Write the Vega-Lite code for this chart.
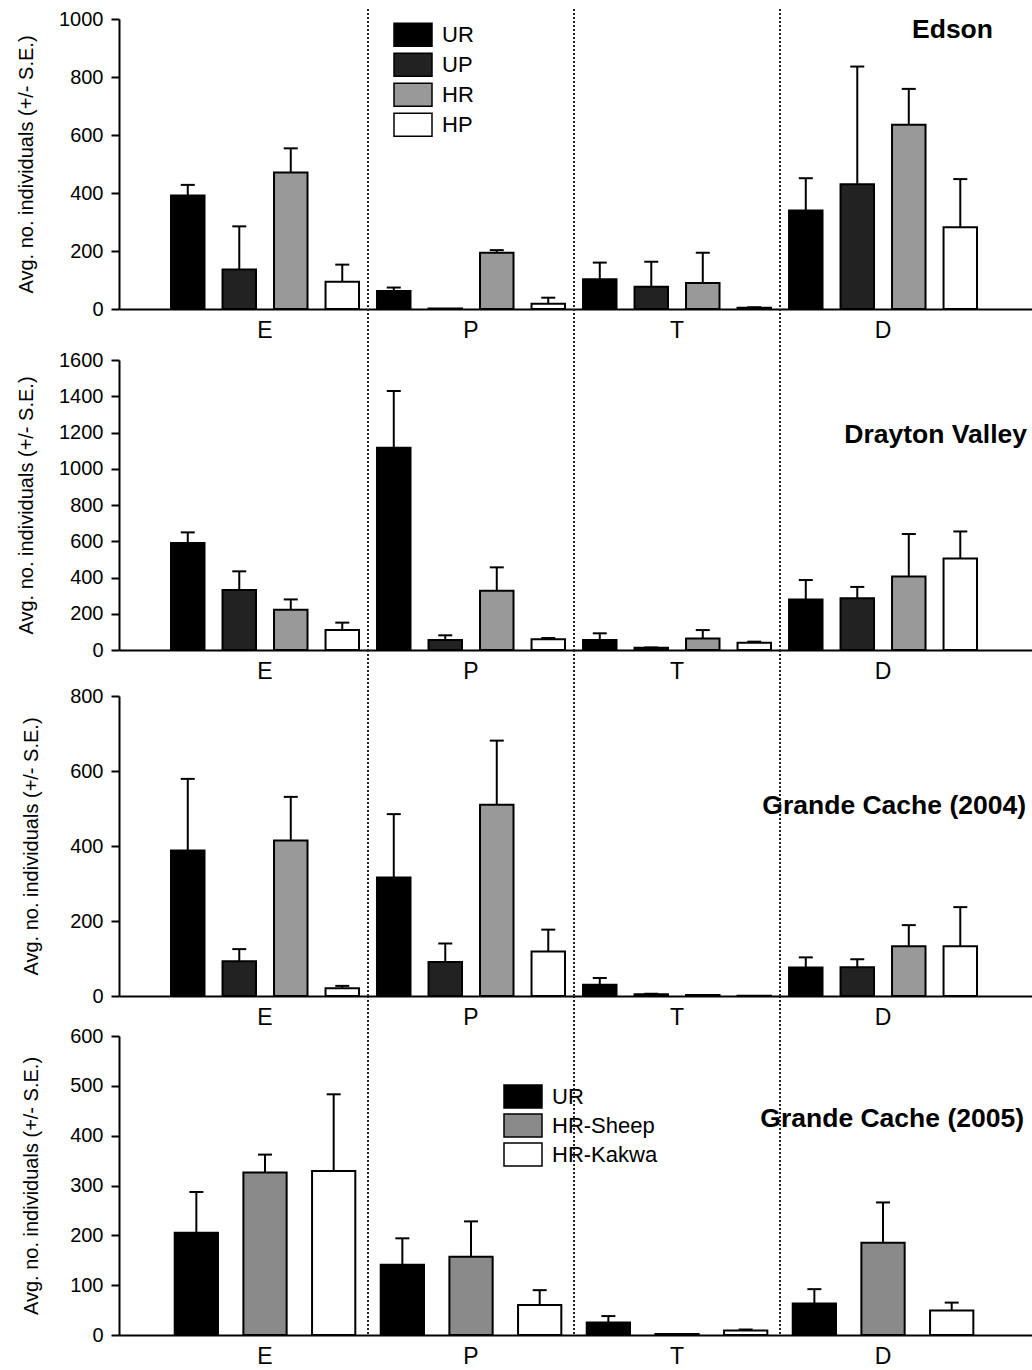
{
  "$schema": "https://vega.github.io/schema/vega-lite/v6.json",
  "autosize": {"type": "pad"},
  "padding": {"left": 16, "top": 8, "right": 0, "bottom": 0},
  "config": {
    "view": {"stroke": null},
    "font": "Liberation Sans",
    "axis": {"grid": false, "labelColor": "black", "titleColor": "black", "domainColor": "black", "tickColor": "black", "domainWidth": 2, "tickWidth": 2, "labelFont": "Liberation Sans", "titleFont": "Liberation Sans"},
    "title": {"font": "Liberation Sans", "fontWeight": "bold", "fontSize": 26.5, "color": "black", "anchor": "end", "frame": "group", "baseline": "middle", "offset": 0},
    "legend": {"labelFont": "Liberation Sans", "labelColor": "black"}
  },
  "datasets": {
    "seps": [{"group": "P"}, {"group": "T"}, {"group": "D"}],
    "edson": [
      {"group": "E", "treatment": "UR", "mean": 391, "upper": 428},
      {"group": "E", "treatment": "UP", "mean": 136, "upper": 285},
      {"group": "E", "treatment": "HR", "mean": 471, "upper": 554},
      {"group": "E", "treatment": "HP", "mean": 94, "upper": 153},
      {"group": "P", "treatment": "UR", "mean": 62, "upper": 74},
      {"group": "P", "treatment": "UP", "mean": 2, "upper": 2},
      {"group": "P", "treatment": "HR", "mean": 194, "upper": 203},
      {"group": "P", "treatment": "HP", "mean": 18, "upper": 39},
      {"group": "T", "treatment": "UR", "mean": 103, "upper": 160},
      {"group": "T", "treatment": "UP", "mean": 77, "upper": 163},
      {"group": "T", "treatment": "HR", "mean": 90, "upper": 194},
      {"group": "T", "treatment": "HP", "mean": 4, "upper": 6},
      {"group": "D", "treatment": "UR", "mean": 340, "upper": 451},
      {"group": "D", "treatment": "UP", "mean": 430, "upper": 836},
      {"group": "D", "treatment": "HR", "mean": 635, "upper": 759},
      {"group": "D", "treatment": "HP", "mean": 282, "upper": 448}
    ],
    "drayton": [
      {"group": "E", "treatment": "UR", "mean": 590, "upper": 649},
      {"group": "E", "treatment": "UP", "mean": 331, "upper": 434},
      {"group": "E", "treatment": "HR", "mean": 222, "upper": 279},
      {"group": "E", "treatment": "HP", "mean": 110, "upper": 151},
      {"group": "P", "treatment": "UR", "mean": 1116, "upper": 1429},
      {"group": "P", "treatment": "UP", "mean": 55, "upper": 81},
      {"group": "P", "treatment": "HR", "mean": 327, "upper": 456},
      {"group": "P", "treatment": "HP", "mean": 59, "upper": 66},
      {"group": "T", "treatment": "UR", "mean": 55, "upper": 92},
      {"group": "T", "treatment": "UP", "mean": 12, "upper": 14},
      {"group": "T", "treatment": "HR", "mean": 64, "upper": 110},
      {"group": "T", "treatment": "HP", "mean": 40, "upper": 46},
      {"group": "D", "treatment": "UR", "mean": 279, "upper": 386},
      {"group": "D", "treatment": "UP", "mean": 285, "upper": 348},
      {"group": "D", "treatment": "HR", "mean": 406, "upper": 640},
      {"group": "D", "treatment": "HP", "mean": 505, "upper": 654}
    ],
    "gc2004": [
      {"group": "E", "treatment": "UR", "mean": 388, "upper": 579},
      {"group": "E", "treatment": "UP", "mean": 93, "upper": 125},
      {"group": "E", "treatment": "HR", "mean": 415, "upper": 531},
      {"group": "E", "treatment": "HP", "mean": 21, "upper": 27},
      {"group": "P", "treatment": "UR", "mean": 316, "upper": 485},
      {"group": "P", "treatment": "UP", "mean": 91, "upper": 140},
      {"group": "P", "treatment": "HR", "mean": 510, "upper": 681},
      {"group": "P", "treatment": "HP", "mean": 119, "upper": 177},
      {"group": "T", "treatment": "UR", "mean": 30, "upper": 48},
      {"group": "T", "treatment": "UP", "mean": 5, "upper": 6},
      {"group": "T", "treatment": "HR", "mean": 3, "upper": 3},
      {"group": "T", "treatment": "HP", "mean": 1, "upper": 1},
      {"group": "D", "treatment": "UR", "mean": 76, "upper": 103},
      {"group": "D", "treatment": "UP", "mean": 77, "upper": 98},
      {"group": "D", "treatment": "HR", "mean": 133, "upper": 189},
      {"group": "D", "treatment": "HP", "mean": 133, "upper": 237}
    ],
    "gc2005": [
      {"group": "E", "treatment": "UR", "mean": 205, "upper": 287},
      {"group": "E", "treatment": "HR-Sheep", "mean": 326, "upper": 362},
      {"group": "E", "treatment": "HR-Kakwa", "mean": 329, "upper": 483},
      {"group": "P", "treatment": "UR", "mean": 141, "upper": 194},
      {"group": "P", "treatment": "HR-Sheep", "mean": 157, "upper": 228},
      {"group": "P", "treatment": "HR-Kakwa", "mean": 60, "upper": 90},
      {"group": "T", "treatment": "UR", "mean": 25, "upper": 38},
      {"group": "T", "treatment": "HR-Sheep", "mean": 2, "upper": 2},
      {"group": "T", "treatment": "HR-Kakwa", "mean": 9, "upper": 11},
      {"group": "D", "treatment": "UR", "mean": 63, "upper": 92},
      {"group": "D", "treatment": "HR-Sheep", "mean": 185, "upper": 266},
      {"group": "D", "treatment": "HR-Kakwa", "mean": 49, "upper": 65}
    ]
  },
  "vconcat": [
    {
      "width": 914, "height": 300,
      "title": {"text": "Edson", "dy": 39, "dx": -40},
      "layer": [
        {"data": {"name": "seps"}, "mark": {"type": "rule", "strokeDash": [2, 2], "strokeWidth": 2, "color": "#222"},
         "encoding": {"x": {"field": "group", "type": "nominal", "bandPosition": 0, "scale": {"domain": ["E", "P", "T", "D"], "paddingInner": 0, "paddingOuter": 0.2184, "align": 0.478}, "axis": {"title": null, "ticks": false, "labelFontSize": 23, "labelPadding": 10, "labelAngle": 0}}}},
        {"data": {"name": "edson"}, "mark": {"type": "bar", "stroke": "black", "strokeWidth": 2},
         "encoding": {
           "x": {"field": "group", "type": "nominal", "scale": {"domain": ["E", "P", "T", "D"], "paddingInner": 0, "paddingOuter": 0.2184, "align": 0.478}, "axis": {"title": null, "ticks": false, "labelFontSize": 23, "labelPadding": 10, "labelAngle": 0}},
           "xOffset": {"field": "treatment", "type": "nominal", "scale": {"domain": ["UR", "UP", "HR", "HP"], "paddingInner": 0.35, "paddingOuter": 0.175}},
           "y": {"field": "mean", "type": "quantitative", "title": "Avg. no. individuals (+/- S.E.)", "scale": {"domain": [0, 1000], "range": [300, 10], "nice": false}, "axis": {"values": [0, 200, 400, 600, 800, 1000], "format": "d", "labelFontSize": 20, "labelPadding": 8, "tickSize": 8, "labelFlush": false, "titleFontSize": 20, "titleFontWeight": "normal", "titlePadding": 22}},
           "color": {"field": "treatment", "type": "nominal", "scale": {"domain": ["UR", "UP", "HR", "HP"], "range": ["#000000", "#222222", "#999999", "#ffffff"]},
             "legend": {"orient": "none", "legendX": 274, "legendY": 11, "title": null, "symbolType": "M-1,-0.6H1V0.6H-1Z", "symbolSize": 1444, "symbolStrokeColor": "black", "symbolStrokeWidth": 1.5, "symbolOpacity": 1, "labelFontSize": 22, "clipHeight": 29.5, "rowPadding": 0, "labelOffset": 9, "padding": 0}}
         }},
        {"data": {"name": "edson"}, "transform": [{"filter": "datum.upper > datum.mean"}], "mark": {"type": "rule", "strokeWidth": 2, "color": "black"},
         "encoding": {
           "x": {"field": "group", "type": "nominal"},
           "xOffset": {"field": "treatment", "type": "nominal"},
           "y": {"field": "mean", "type": "quantitative", "title": "Avg. no. individuals (+/- S.E.)"},
           "y2": {"field": "upper"}
         }},
        {"data": {"name": "edson"}, "transform": [{"filter": "datum.upper > datum.mean"}], "mark": {"type": "tick", "orient": "horizontal", "size": 14, "thickness": 2, "color": "black", "opacity": 1},
         "encoding": {
           "x": {"field": "group", "type": "nominal"},
           "xOffset": {"field": "treatment", "type": "nominal"},
           "y": {"field": "upper", "type": "quantitative", "title": "Avg. no. individuals (+/- S.E.)"}
         }}
      ]
    },
    {
      "width": 914, "height": 341,
      "title": {"text": "Drayton Valley", "dy": 144, "dx": -6},
      "layer": [
        {"data": {"name": "seps"}, "mark": {"type": "rule", "strokeDash": [2, 2], "strokeWidth": 2, "color": "#222"},
         "encoding": {"x": {"field": "group", "type": "nominal", "bandPosition": 0, "scale": {"domain": ["E", "P", "T", "D"], "paddingInner": 0, "paddingOuter": 0.2184, "align": 0.478}, "axis": {"title": null, "ticks": false, "labelFontSize": 23, "labelPadding": 10, "labelAngle": 0}}}},
        {"data": {"name": "drayton"}, "mark": {"type": "bar", "stroke": "black", "strokeWidth": 2},
         "encoding": {
           "x": {"field": "group", "type": "nominal", "scale": {"domain": ["E", "P", "T", "D"], "paddingInner": 0, "paddingOuter": 0.2184, "align": 0.478}, "axis": {"title": null, "ticks": false, "labelFontSize": 23, "labelPadding": 10, "labelAngle": 0}},
           "xOffset": {"field": "treatment", "type": "nominal", "scale": {"domain": ["UR", "UP", "HR", "HP"], "paddingInner": 0.35, "paddingOuter": 0.175}},
           "y": {"field": "mean", "type": "quantitative", "title": "Avg. no. individuals (+/- S.E.)", "scale": {"domain": [0, 1600], "range": [341, 51], "nice": false}, "axis": {"values": [0, 200, 400, 600, 800, 1000, 1200, 1400, 1600], "format": "d", "labelFontSize": 20, "labelPadding": 8, "tickSize": 8, "labelFlush": false, "titleFontSize": 20, "titleFontWeight": "normal", "titlePadding": 22}},
           "color": {"field": "treatment", "type": "nominal", "scale": {"domain": ["UR", "UP", "HR", "HP"], "range": ["#000000", "#222222", "#999999", "#ffffff"]}, "legend": null}
         }},
        {"data": {"name": "drayton"}, "transform": [{"filter": "datum.upper > datum.mean"}], "mark": {"type": "rule", "strokeWidth": 2, "color": "black"},
         "encoding": {
           "x": {"field": "group", "type": "nominal"},
           "xOffset": {"field": "treatment", "type": "nominal"},
           "y": {"field": "mean", "type": "quantitative", "title": "Avg. no. individuals (+/- S.E.)"},
           "y2": {"field": "upper"}
         }},
        {"data": {"name": "drayton"}, "transform": [{"filter": "datum.upper > datum.mean"}], "mark": {"type": "tick", "orient": "horizontal", "size": 14, "thickness": 2, "color": "black", "opacity": 1},
         "encoding": {
           "x": {"field": "group", "type": "nominal"},
           "xOffset": {"field": "treatment", "type": "nominal"},
           "y": {"field": "upper", "type": "quantitative", "title": "Avg. no. individuals (+/- S.E.)"}
         }}
      ]
    },
    {
      "width": 914, "height": 346,
      "title": {"text": "Grande Cache (2004)", "dy": 174, "dx": -7},
      "layer": [
        {"data": {"name": "seps"}, "mark": {"type": "rule", "strokeDash": [2, 2], "strokeWidth": 2, "color": "#222"},
         "encoding": {"x": {"field": "group", "type": "nominal", "bandPosition": 0, "scale": {"domain": ["E", "P", "T", "D"], "paddingInner": 0, "paddingOuter": 0.2184, "align": 0.478}, "axis": {"title": null, "ticks": false, "labelFontSize": 23, "labelPadding": 10, "labelAngle": 0}}}},
        {"data": {"name": "gc2004"}, "mark": {"type": "bar", "stroke": "black", "strokeWidth": 2},
         "encoding": {
           "x": {"field": "group", "type": "nominal", "scale": {"domain": ["E", "P", "T", "D"], "paddingInner": 0, "paddingOuter": 0.2184, "align": 0.478}, "axis": {"title": null, "ticks": false, "labelFontSize": 23, "labelPadding": 10, "labelAngle": 0}},
           "xOffset": {"field": "treatment", "type": "nominal", "scale": {"domain": ["UR", "UP", "HR", "HP"], "paddingInner": 0.35, "paddingOuter": 0.175}},
           "y": {"field": "mean", "type": "quantitative", "title": "Avg. no. individuals (+/- S.E.)", "scale": {"domain": [0, 800], "range": [346, 46], "nice": false}, "axis": {"values": [0, 200, 400, 600, 800], "format": "d", "labelFontSize": 20, "labelPadding": 8, "tickSize": 8, "labelFlush": false, "titleFontSize": 20, "titleFontWeight": "normal", "titlePadding": 28}},
           "color": {"field": "treatment", "type": "nominal", "scale": {"domain": ["UR", "UP", "HR", "HP"], "range": ["#000000", "#222222", "#999999", "#ffffff"]}, "legend": null}
         }},
        {"data": {"name": "gc2004"}, "transform": [{"filter": "datum.upper > datum.mean"}], "mark": {"type": "rule", "strokeWidth": 2, "color": "black"},
         "encoding": {
           "x": {"field": "group", "type": "nominal"},
           "xOffset": {"field": "treatment", "type": "nominal"},
           "y": {"field": "mean", "type": "quantitative", "title": "Avg. no. individuals (+/- S.E.)"},
           "y2": {"field": "upper"}
         }},
        {"data": {"name": "gc2004"}, "transform": [{"filter": "datum.upper > datum.mean"}], "mark": {"type": "tick", "orient": "horizontal", "size": 14, "thickness": 2, "color": "black", "opacity": 1},
         "encoding": {
           "x": {"field": "group", "type": "nominal"},
           "xOffset": {"field": "treatment", "type": "nominal"},
           "y": {"field": "upper", "type": "quantitative", "title": "Avg. no. individuals (+/- S.E.)"}
         }}
      ]
    },
    {
      "width": 914, "height": 339,
      "title": {"text": "Grande Cache (2005)", "dy": 141, "dx": -9},
      "layer": [
        {"data": {"name": "seps"}, "mark": {"type": "rule", "strokeDash": [2, 2], "strokeWidth": 2, "color": "#222"},
         "encoding": {"x": {"field": "group", "type": "nominal", "bandPosition": 0, "scale": {"domain": ["E", "P", "T", "D"], "paddingInner": 0, "paddingOuter": 0.2184, "align": 0.478}, "axis": {"title": null, "ticks": false, "labelFontSize": 23, "labelPadding": 10, "labelAngle": 0}}}},
        {"data": {"name": "gc2005"}, "mark": {"type": "bar", "stroke": "black", "strokeWidth": 2},
         "encoding": {
           "x": {"field": "group", "type": "nominal", "scale": {"domain": ["E", "P", "T", "D"], "paddingInner": 0, "paddingOuter": 0.2184, "align": 0.478}, "axis": {"title": null, "ticks": false, "labelFontSize": 23, "labelPadding": 10, "labelAngle": 0}},
           "xOffset": {"field": "treatment", "type": "nominal", "scale": {"domain": ["UR", "HR-Sheep", "HR-Kakwa"], "paddingInner": 0.37, "paddingOuter": 0.185}},
           "y": {"field": "mean", "type": "quantitative", "title": "Avg. no. individuals (+/- S.E.)", "scale": {"domain": [0, 600], "range": [339, 40], "nice": false}, "axis": {"values": [0, 100, 200, 300, 400, 500, 600], "format": "d", "labelFontSize": 20, "labelPadding": 8, "tickSize": 8, "labelFlush": false, "titleFontSize": 20, "titleFontWeight": "normal", "titlePadding": 28}},
           "color": {"field": "treatment", "type": "nominal", "scale": {"domain": ["UR", "HR-Sheep", "HR-Kakwa"], "range": ["#000000", "#8a8a8a", "#ffffff"]},
             "legend": {"orient": "none", "legendX": 384, "legendY": 86, "title": null, "symbolType": "M-1,-0.6H1V0.6H-1Z", "symbolSize": 1444, "symbolStrokeColor": "black", "symbolStrokeWidth": 1.5, "symbolOpacity": 1, "labelFontSize": 22, "clipHeight": 29, "rowPadding": 0, "labelOffset": 9, "padding": 0}}
         }},
        {"data": {"name": "gc2005"}, "transform": [{"filter": "datum.upper > datum.mean"}], "mark": {"type": "rule", "strokeWidth": 2, "color": "black"},
         "encoding": {
           "x": {"field": "group", "type": "nominal"},
           "xOffset": {"field": "treatment", "type": "nominal"},
           "y": {"field": "mean", "type": "quantitative", "title": "Avg. no. individuals (+/- S.E.)"},
           "y2": {"field": "upper"}
         }},
        {"data": {"name": "gc2005"}, "transform": [{"filter": "datum.upper > datum.mean"}], "mark": {"type": "tick", "orient": "horizontal", "size": 14, "thickness": 2, "color": "black", "opacity": 1},
         "encoding": {
           "x": {"field": "group", "type": "nominal"},
           "xOffset": {"field": "treatment", "type": "nominal"},
           "y": {"field": "upper", "type": "quantitative", "title": "Avg. no. individuals (+/- S.E.)"}
         }}
      ]
    }
  ],
  "spacing": 0,
  "bounds": "flush",
  "resolve": {"scale": {"x": "independent", "y": "independent", "xOffset": "independent", "color": "independent"}, "legend": {"color": "independent"}}
}
